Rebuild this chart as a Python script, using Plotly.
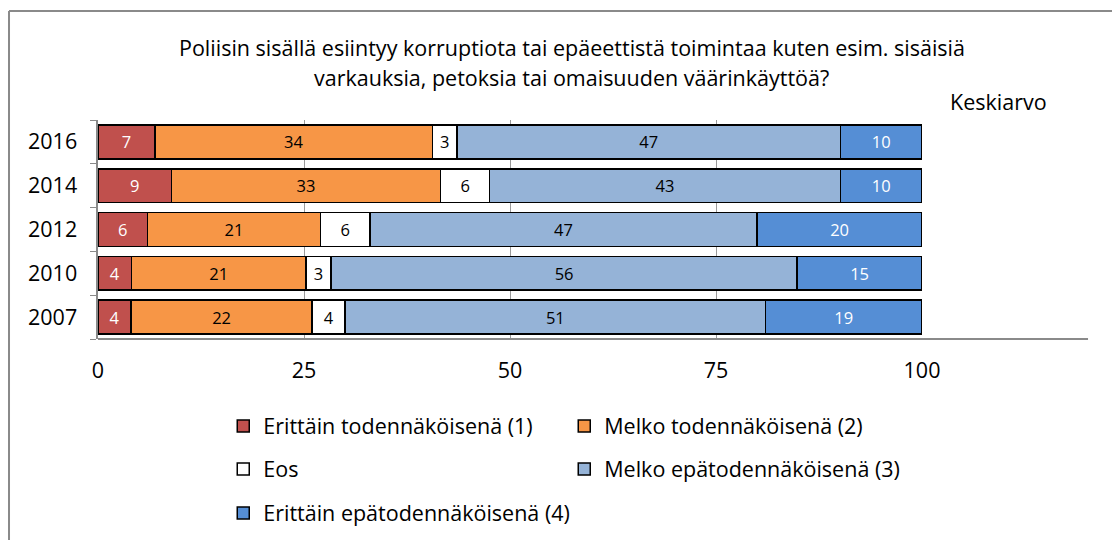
import plotly.graph_objects as go

years = ["2007", "2010", "2012", "2014", "2016"]
series_names = [
    "Erittäin todennäköisenä (1)",
    "Melko todennäköisenä (2)",
    "Eos",
    "Melko epätodennäköisenä (3)",
    "Erittäin epätodennäköisenä (4)",
]
erittain_tod = [4, 4, 6, 9, 7]
melko_tod = [22, 21, 21, 33, 34]
eos = [4, 3, 6, 6, 3]
melko_epatod = [51, 56, 47, 43, 47]
erittain_epatod = [19, 15, 20, 10, 10]
keskiarvo = ["2,89", "2,84", "2,85", "2,58", "2,61"]
x_ticks = [0, 25, 50, 75, 100]

title_lines = [
    "Poliisin sisällä esiintyy korruptiota tai epäeettistä toimintaa kuten esim. sisäisiä",
    "varkauksia, petoksia tai omaisuuden väärinkäyttöä?",
]

colors = ["#C0504D", "#F79646", "#FFFFFF", "#95B3D7", "#558ED5"]
text_colors = ["white", "black", "black", "black", "white"]
legends = ["legend", "legend", "legend2", "legend2", "legend3"]
all_values = [erittain_tod, melko_tod, eos, melko_epatod, erittain_epatod]

FONT = "Open Sans"
FS = 21.5

fig = go.Figure()
for name, vals, col, tcol, lg in zip(series_names, all_values, colors, text_colors, legends):
    fig.add_trace(go.Bar(
        y=years, x=vals, name=name, orientation="h",
        marker=dict(color=col, line=dict(color="black", width=1.5)),
        text=[str(v) for v in vals], textposition="inside",
        insidetextanchor="middle", textangle=0,
        textfont=dict(color=tcol, size=16.5, family=FONT),
        legend=lg,
    ))

legend_common = dict(
    orientation="h", xanchor="left", yanchor="middle",
    font=dict(size=FS, family=FONT, color="black"),
    entrywidthmode="pixels",
    bgcolor="rgba(0,0,0,0)", traceorder="normal",
)

fig.update_layout(
    width=1112, height=532,
    margin=dict(l=90, r=198, t=112, b=201, autoexpand=False),
    barmode="stack", barnorm="percent", bargap=0.23,
    plot_bgcolor="white", paper_bgcolor="white",
    font=dict(family=FONT, color="black"),
    showlegend=True,
    legend=dict(x=0.152, y=-0.397, entrywidth=296, **legend_common),
    legend2=dict(x=0.152, y=-0.594, entrywidth=296, **legend_common),
    legend3=dict(x=0.152, y=-0.795, entrywidth=420, **legend_common),
    xaxis=dict(
        range=[0, 100], tickvals=x_ticks, showgrid=True, gridcolor="#9a9a9a",
        gridwidth=1, zeroline=False, showline=False, ticks="",
        tickfont=dict(size=FS, family=FONT), ticklabelstandoff=16,
    ),
    yaxis=dict(
        type="category", categoryorder="array", categoryarray=years,
        range=[-0.5, 4.5], showline=True, linecolor="#8a8a8a",
        linewidth=1.5, ticks="outside", ticklen=6, tickson="boundaries",
        tickcolor="#8a8a8a", tickfont=dict(size=FS, family=FONT),
        ticksuffix="  \u2009", showgrid=False,
    ),
)

# extended bottom axis line
fig.add_shape(type="line", xref="paper", yref="paper", x0=0, x1=1.2015, y0=0, y1=0,
              line=dict(color="#8a8a8a", width=2))
# outer chart border (top and left)
fig.add_shape(type="line", xref="paper", yref="paper", x0=-0.108, x1=1.3, y0=1.498, y1=1.498,
              line=dict(color="#8a8a8a", width=2))
fig.add_shape(type="line", xref="paper", yref="paper", x0=-0.108, x1=-0.108, y0=1.498, y1=-1.0,
              line=dict(color="#8a8a8a", width=2))

# title lines
fig.add_annotation(text=title_lines[0], xref="paper", yref="paper", x=0.575, y=1.333,
                   showarrow=False, xanchor="center", yanchor="middle",
                   font=dict(size=FS, family=FONT, color="black"))
fig.add_annotation(text=title_lines[1], xref="paper", yref="paper", x=0.575, y=1.192,
                   showarrow=False, xanchor="center", yanchor="middle",
                   font=dict(size=FS, family=FONT, color="black"))

fig.add_annotation(text="Keskiarvo", xref="paper", yref="paper", x=1.032, y=1.083,
                   showarrow=False, xanchor="left", yanchor="middle",
                   font=dict(size=FS, family=FONT, color="black"))
for yr, k in zip(years, keskiarvo):
    fig.add_annotation(text=k, xref="paper", yref="y", x=1.019, y=yr,
                       showarrow=False, xanchor="left", yanchor="middle",
                       font=dict(size=FS, family=FONT, color="black"))

fig.write_html("out.html")
